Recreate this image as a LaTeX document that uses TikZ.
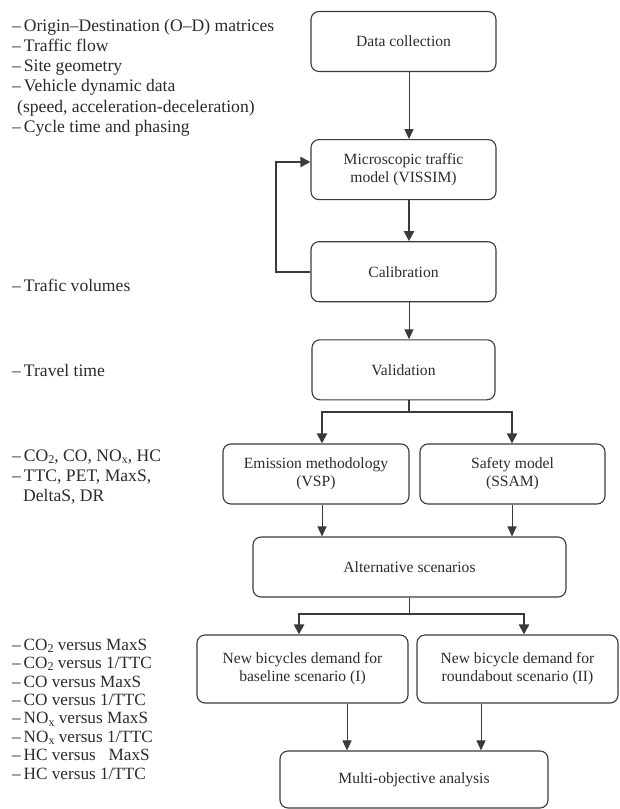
\documentclass[tikz,border=0pt]{standalone}
\usepackage{fontspec}
\setmainfont{Liberation Serif}
\usetikzlibrary{arrows.meta,positioning}
\definecolor{FlowLine}{HTML}{3A3A3A}
\definecolor{FlowText}{HTML}{2B2B2B}
\newcommand{\lowsub}[1]{\raisebox{-0.3ex}{\fontsize{12}{12}\selectfont#1}}

\begin{document}
\begin{tikzpicture}[
  x=1pt,y=-1pt,
  box/.style={draw=FlowLine,line width=1.1pt,rounded corners=8pt,align=center,inner sep=0pt,minimum width=185pt,minimum height=60pt,text=FlowText,font=\fontsize{15.6}{18.3}\selectfont},
  note/.style={anchor=west,align=left,inner sep=0pt,text=FlowText,font=\fontsize{17.6}{20.2}\selectfont},
  thinline/.style={draw=FlowLine,line width=1pt},
  thickline/.style={draw=FlowLine,line width=2.2pt},
  thinarrow/.style={thinline,-{Triangle[length=10pt,width=9pt]}},
  thickarrow/.style={thickline,-{Triangle[length=10pt,width=10pt]}},
]
\useasboundingbox (0,0) rectangle (620,809);

% main column
\node[box] (data) at (403.5,41.5) {Data collection};
\node[box,below=67pt of data] (micro) {Microscopic traffic\\model (VISSIM)};
\node[box,below=41pt of micro] (calib) {Calibration};
\node[box,below=37pt of calib,minimum width=183pt] (valid) {Validation};

% models and scenarios
\node[box,minimum width=186pt] (emis) at (316,474) {Emission methodology\\(VSP)};
\node[box] (safety) at (512.5,474) {Safety model\\(SSAM)};
\node[box,minimum width=313pt] (alt) at (409.5,567) {Alternative scenarios};
\node[box,minimum width=211pt,minimum height=68pt] (base) at (302.5,669) {New bicycles demand for\\baseline scenario (I)};
\node[box,minimum width=201pt,minimum height=68pt] (round) at (517.5,669) {New bicycle demand for\\roundabout scenario (II)};
\node[box,minimum width=268pt,minimum height=57pt] (multi) at (414,779.5) {Multi-objective analysis};

% side notes
\node[note] (inputs) at (12,77.5) {–\,Origin–Destination (O–D) matrices\\
  –\,Traffic flow\\
  –\,Site geometry\\
  –\,Vehicle dynamic data\\
  \hspace*{5pt}(speed, acceleration-deceleration)\\
  –\,Cycle time and phasing};
\node[note] (volumes) at (12,285) {–\,Trafic volumes};
\node[note] (ttime) at (12,370) {–\,Travel time};
\node[note,font=\fontsize{17.6}{20}\selectfont] (measures) at (12,477) {–\,CO\lowsub{2}, CO, NO\lowsub{x}, HC\\
  –\,TTC, PET, MaxS,\\
  \hspace*{11pt}DeltaS, DR};
\node[note,font=\fontsize{17.2}{18.4}\selectfont] (pairs) at (12,709) {–\,CO\lowsub{2} versus MaxS\\
  –\,CO\lowsub{2} versus 1/TTC\\
  –\,CO versus MaxS\\
  –\,CO versus 1/TTC\\
  –\,NO\lowsub{x} versus MaxS\\
  –\,NO\lowsub{x} versus 1/TTC\\
  –\,HC versus\ \ \ MaxS\\
  –\,HC versus 1/TTC};

% connector columns
\coordinate (spine) at (409,0);
\coordinate (loopTop) at (276,162);
\coordinate (loopBot) at (276,272);
\coordinate (vsplit) at (409,412);
\coordinate (asplit) at (409,614);
\coordinate (colA) at (322,0);
\coordinate (colB) at (512,0);
\coordinate (colC) at (299,0);
\coordinate (colD) at (524,0);
\coordinate (colE) at (347,0);
\coordinate (colF) at (481,0);

\draw[thinarrow] (data.south -| spine) -- (micro.north -| spine);
\draw[thickarrow] (micro.south -| spine) -- (calib.north -| spine);
\draw[thickarrow] (calib.west |- loopBot) -- (loopBot) -- (loopTop) -- (micro.west |- loopTop);
\draw[thinarrow] (calib.south -| spine) -- (valid.north -| spine);
\draw[thickline] (valid.south -| spine) -- (vsplit);
\draw[thickarrow] (vsplit) -| (emis.north -| colA);
\draw[thickarrow] (vsplit) -| (safety.north -| colB);
\draw[thinarrow] (emis.south -| colA) -- (alt.north -| colA);
\draw[thinarrow] (safety.south -| colB) -- (alt.north -| colB);
\draw[thinline] (alt.south -| spine) -- (asplit);
\draw[thickarrow] (asplit) -| (base.north -| colC);
\draw[thickarrow] (asplit) -| (round.north -| colD);
\draw[thinarrow] (base.south -| colE) -- (multi.north -| colE);
\draw[thinarrow] (round.south -| colF) -- (multi.north -| colF);
\end{tikzpicture}
\end{document}
